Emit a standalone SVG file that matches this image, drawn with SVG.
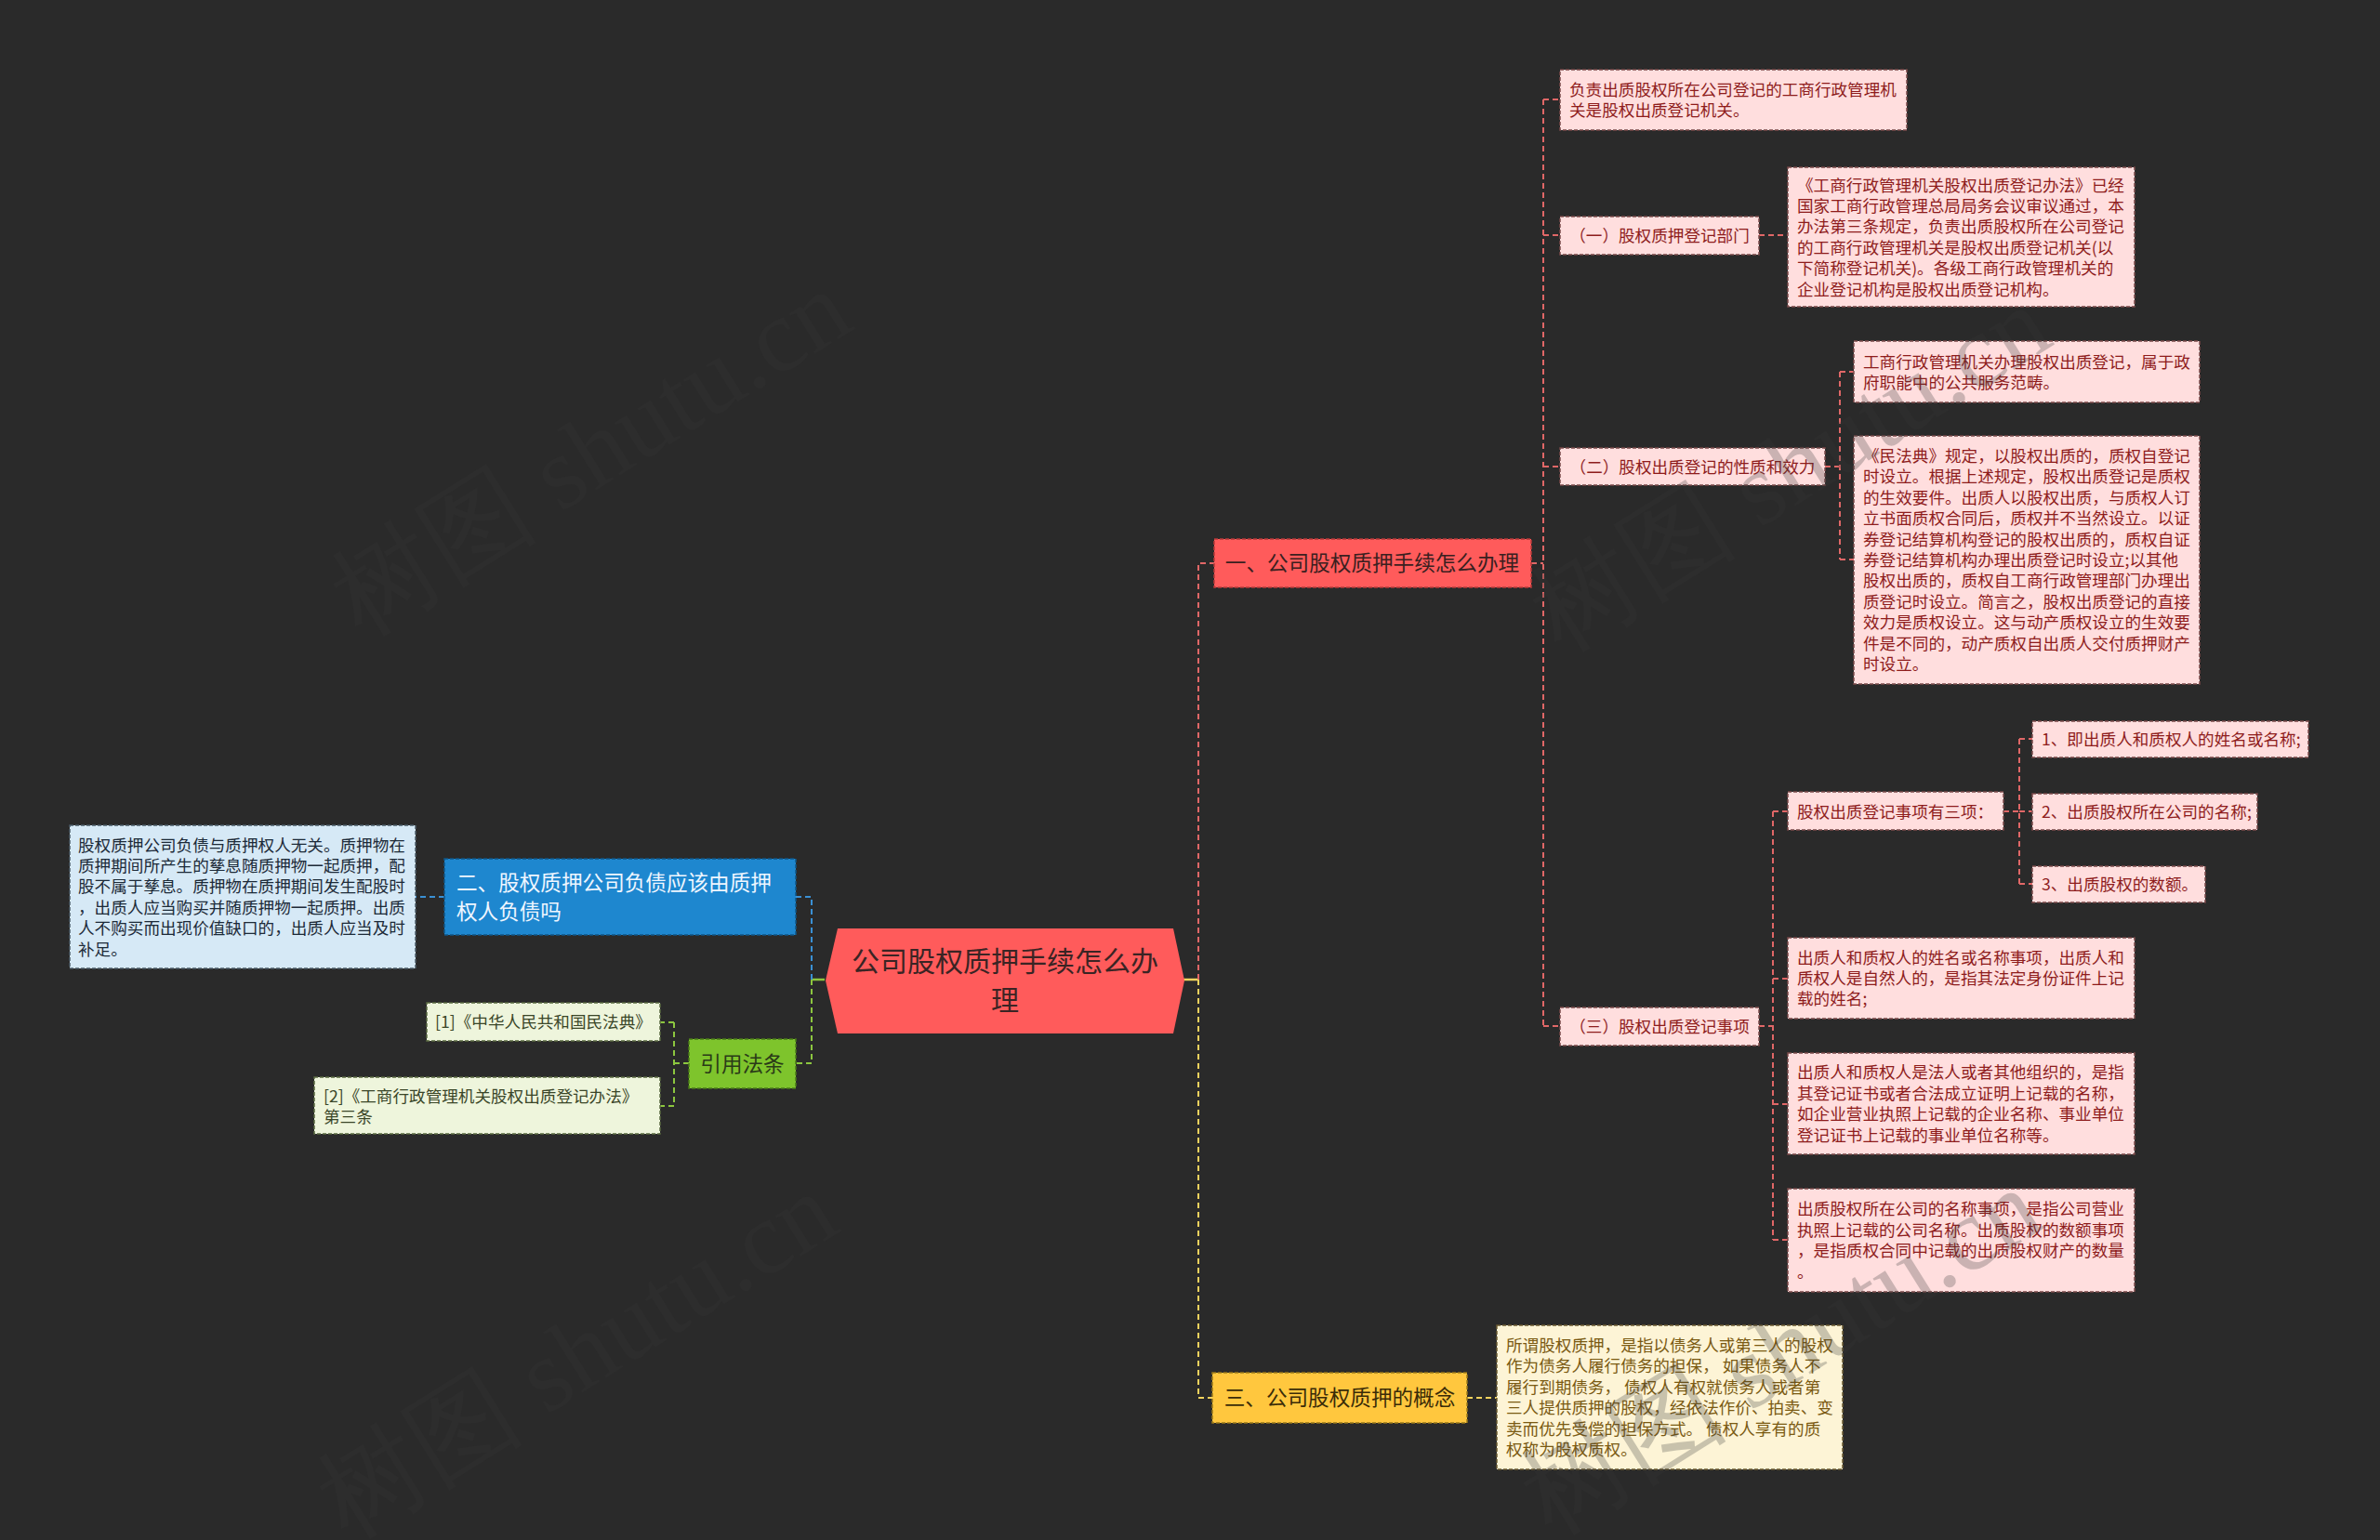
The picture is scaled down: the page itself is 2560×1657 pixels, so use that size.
<svg xmlns="http://www.w3.org/2000/svg" width="2560" height="1657" viewBox="0 0 2560 1657">
<style>
text{font-family:"Noto Sans CJK SC","Microsoft YaHei","Noto Sans",sans-serif}
.leaf{font-size:17.6px}
.br{font-size:22.6px}
.rl rect{fill:#ffdede;stroke:#7a4a4a;stroke-width:1.5;stroke-dasharray:4 2}
.rl text{fill:#8e1c1c}
.cn{fill:none;stroke-width:2;stroke-dasharray:6 4}
.cr{stroke:#e06767}
.cy{stroke:#f2d35e}
.cb{stroke:#3a90d4}
.cg{stroke:#8cc63f}
.wm{font-family:"Liberation Serif",serif;font-size:112px;fill:#363636;opacity:.26}
</style>
<rect width="2560" height="1657" fill="#2a2a2a"/>

<g id="connectors">
<path d="M1273,1054 H1289" stroke="#f2d35e" stroke-width="2.5" fill="none"/>
<path d="M887,1054 H873" stroke="#8cc63f" stroke-width="2.5" fill="none"/>
<path class="cn cr" d="M1289,1054 V606 H1306"/>
<path class="cn cy" d="M1289,1054 V1504 H1304"/>
<path class="cn cb" d="M873,1054 V965 H856 M478,965 H447"/>
<path class="cn cg" d="M873,1054 V1144 H856 M741,1144 H725 M725,1100 V1190 M725,1100 H710 M725,1190 H710"/>
<path class="cn cr" d="M1647,606 H1660 M1660,107 V1104 M1660,107 H1678 M1660,253 H1678 M1660,502 H1678 M1660,1104 H1678"/>
<path class="cn cr" d="M1892,253 H1923"/>
<path class="cn cr" d="M1963,502 H1979 M1979,400 V602 M1979,400 H1994 M1979,602 H1994"/>
<path class="cn cr" d="M1892,1104 H1907 M1907,873 V1334 M1907,873 H1923 M1907,1053 H1923 M1907,1188 H1923 M1907,1334 H1923"/>
<path class="cn cr" d="M2155,873 H2172 M2172,795 V951 M2172,795 H2186 M2172,873 H2186 M2172,951 H2186"/>
<path class="cn cy" d="M1578,1504 H1610"/>
</g>

<g id="root">
<polygon points="901,999 1262,999 1274,1055 1262,1112 901,1112 888,1055" fill="#ff5b5b"/>
<text x="1081" y="1045" font-size="30" fill="#3a2424" text-anchor="middle">公司股权质押手续怎么办</text>
<text x="1081" y="1087" font-size="30" fill="#3a2424" text-anchor="middle">理</text>
</g>

<g id="branch1">
<rect x="1306" y="580" width="341" height="52" fill="#ff5b5b" stroke="#b83a3a" stroke-width="1.5" stroke-dasharray="4 2"/>
<text class="br" x="1476" y="614" fill="#3a2020" text-anchor="middle">一、公司股权质押手续怎么办理</text>
</g>

<g id="branch2">
<rect x="478" y="924" width="378" height="82" fill="#1e87cf" stroke="#0f5586" stroke-width="1.5" stroke-dasharray="4 2"/>
<text class="br" x="491" y="958" fill="#eef6ff">二、股权质押公司负债应该由质押</text>
<text class="br" x="491" y="989" fill="#eef6ff">权人负债吗</text>
</g>

<g id="branch2-leaf">
<rect x="75" y="888" width="372" height="154" fill="#d6e9f6" stroke="#4a5a66" stroke-width="1.5" stroke-dasharray="4 2"/>
<text class="leaf" fill="#1c2a38">
<tspan x="84" y="915.5">股权质押公司负债与质押权人无关。质押物在</tspan>
<tspan x="84" y="937.9">质押期间所产生的孳息随质押物一起质押，配</tspan>
<tspan x="84" y="960.3">股不属于孳息。质押物在质押期间发生配股时</tspan>
<tspan x="84" y="982.7">，出质人应当购买并随质押物一起质押。出质</tspan>
<tspan x="84" y="1005.1">人不购买而出现价值缺口的，出质人应当及时</tspan>
<tspan x="84" y="1027.5">补足。</tspan>
</text>
</g>

<g id="branch-cite">
<rect x="741" y="1118" width="115" height="53" fill="#7ec42c" stroke="#4a7a18" stroke-width="1.5" stroke-dasharray="4 2"/>
<text class="br" x="798.5" y="1152.5" fill="#2a3a18" text-anchor="middle">引用法条</text>
</g>

<g id="cite1">
<rect x="459" y="1079" width="251" height="41" fill="#eef5dc" stroke="#5a6a40" stroke-width="1.5" stroke-dasharray="4 2"/>
<text class="leaf" x="584.5" y="1106" fill="#3a4628" text-anchor="middle">[1]《中华人民共和国民法典》</text>
</g>

<g id="cite2">
<rect x="338" y="1159" width="372" height="61" fill="#eef5dc" stroke="#5a6a40" stroke-width="1.5" stroke-dasharray="4 2"/>
<text class="leaf" fill="#3a4628">
<tspan x="348" y="1185.5">[2]《工商行政管理机关股权出质登记办法》</tspan>
<tspan x="348" y="1207.9">第三条</tspan>
</text>
</g>

<g id="branch3">
<rect x="1304" y="1477" width="274" height="54" fill="#ffc73e" stroke="#9a7a1a" stroke-width="1.5" stroke-dasharray="4 2"/>
<text class="br" x="1441" y="1512" fill="#3a2c08" text-anchor="middle">三、公司股权质押的概念</text>
</g>

<g id="branch3-leaf">
<rect x="1610" y="1426" width="372" height="155" fill="#fdf4d6" stroke="#6a5a30" stroke-width="1.5" stroke-dasharray="4 2"/>
<text class="leaf" fill="#7a5a12">
<tspan x="1620" y="1454">所谓股权质押，是指以债务人或第三人的股权</tspan>
<tspan x="1620" y="1476.4">作为债务人履行债务的担保， 如果债务人不</tspan>
<tspan x="1620" y="1498.8">履行到期债务， 债权人有权就债务人或者第</tspan>
<tspan x="1620" y="1521.2">三人提供质押的股权，经依法作价、拍卖、变</tspan>
<tspan x="1620" y="1543.6">卖而优先受偿的担保方式。 债权人享有的质</tspan>
<tspan x="1620" y="1566">权称为股权质权。</tspan>
</text>
</g>

<g id="n-dept-body" class="rl">
<rect x="1678" y="75" width="373" height="65"/>
<text class="leaf"><tspan x="1688" y="103">负责出质股权所在公司登记的工商行政管理机</tspan><tspan x="1688" y="125.4">关是股权出质登记机关。</tspan></text>
</g>

<g id="n-dept" class="rl">
<rect x="1678" y="233" width="214" height="41"/>
<text class="leaf" x="1785" y="260" text-anchor="middle">（一）股权质押登记部门</text>
</g>

<g id="n-dept-law" class="rl">
<rect x="1923" y="180" width="373" height="150"/>
<text class="leaf">
<tspan x="1933" y="205.5">《工商行政管理机关股权出质登记办法》已经</tspan>
<tspan x="1933" y="227.9">国家工商行政管理总局局务会议审议通过，本</tspan>
<tspan x="1933" y="250.3">办法第三条规定，负责出质股权所在公司登记</tspan>
<tspan x="1933" y="272.7">的工商行政管理机关是股权出质登记机关(以</tspan>
<tspan x="1933" y="295.1">下简称登记机关)。各级工商行政管理机关的</tspan>
<tspan x="1933" y="317.5">企业登记机构是股权出质登记机构。</tspan>
</text>
</g>

<g id="n-nature" class="rl">
<rect x="1678" y="482" width="285" height="40"/>
<text class="leaf" x="1820.5" y="508.5" text-anchor="middle">（二）股权出质登记的性质和效力</text>
</g>

<g id="n-nature-1" class="rl">
<rect x="1994" y="367" width="372" height="66"/>
<text class="leaf"><tspan x="2004" y="395.5">工商行政管理机关办理股权出质登记，属于政</tspan><tspan x="2004" y="417.9">府职能中的公共服务范畴。</tspan></text>
</g>

<g id="n-nature-2" class="rl">
<rect x="1994" y="469" width="372" height="267"/>
<text class="leaf">
<tspan x="2004" y="497">《民法典》规定，以股权出质的，质权自登记</tspan>
<tspan x="2004" y="519.4">时设立。根据上述规定，股权出质登记是质权</tspan>
<tspan x="2004" y="541.8">的生效要件。出质人以股权出质，与质权人订</tspan>
<tspan x="2004" y="564.2">立书面质权合同后，质权并不当然设立。以证</tspan>
<tspan x="2004" y="586.6">券登记结算机构登记的股权出质的，质权自证</tspan>
<tspan x="2004" y="609">券登记结算机构办理出质登记时设立;以其他</tspan>
<tspan x="2004" y="631.4">股权出质的，质权自工商行政管理部门办理出</tspan>
<tspan x="2004" y="653.8">质登记时设立。简言之，股权出质登记的直接</tspan>
<tspan x="2004" y="676.2">效力是质权设立。这与动产质权设立的生效要</tspan>
<tspan x="2004" y="698.6">件是不同的，动产质权自出质人交付质押财产</tspan>
<tspan x="2004" y="721">时设立。</tspan>
</text>
</g>

<g id="n-items" class="rl">
<rect x="1678" y="1084" width="214" height="41"/>
<text class="leaf" x="1785" y="1111" text-anchor="middle">（三）股权出质登记事项</text>
</g>

<g id="n-items-three" class="rl">
<rect x="1923" y="852" width="232" height="41"/>
<text class="leaf" x="1933" y="879.5">股权出质登记事项有三项：</text>
</g>

<g id="n-item-1" class="rl">
<rect x="2186" y="776" width="297" height="39"/>
<text class="leaf" x="2196" y="802">1、即出质人和质权人的姓名或名称;</text>
</g>

<g id="n-item-2" class="rl">
<rect x="2186" y="854" width="242" height="39"/>
<text class="leaf" x="2196" y="880">2、出质股权所在公司的名称;</text>
</g>

<g id="n-item-3" class="rl">
<rect x="2186" y="932" width="186" height="39"/>
<text class="leaf" x="2196" y="958">3、出质股权的数额。</text>
</g>

<g id="n-items-a" class="rl">
<rect x="1923" y="1009" width="373" height="87"/>
<text class="leaf">
<tspan x="1933" y="1036.6">出质人和质权人的姓名或名称事项，出质人和</tspan>
<tspan x="1933" y="1059">质权人是自然人的，是指其法定身份证件上记</tspan>
<tspan x="1933" y="1081.4">载的姓名;</tspan>
</text>
</g>

<g id="n-items-b" class="rl">
<rect x="1923" y="1133" width="373" height="109"/>
<text class="leaf">
<tspan x="1933" y="1160.4">出质人和质权人是法人或者其他组织的，是指</tspan>
<tspan x="1933" y="1182.8">其登记证书或者合法成立证明上记载的名称，</tspan>
<tspan x="1933" y="1205.2">如企业营业执照上记载的企业名称、事业单位</tspan>
<tspan x="1933" y="1227.6">登记证书上记载的事业单位名称等。</tspan>
</text>
</g>

<g id="n-items-c" class="rl">
<rect x="1923" y="1279" width="373" height="111"/>
<text class="leaf">
<tspan x="1933" y="1307.4">出质股权所在公司的名称事项，是指公司营业</tspan>
<tspan x="1933" y="1329.8">执照上记载的公司名称。出质股权的数额事项</tspan>
<tspan x="1933" y="1352.2">，是指质权合同中记载的出质股权财产的数量</tspan>
<tspan x="1933" y="1374.6">。</tspan>
</text>
</g>

<g id="watermarks">
<text class="wm" x="655" y="519" text-anchor="middle" transform="rotate(-32 655 519)">树图 shutu.cn</text>
<text class="wm" x="1945" y="536" text-anchor="middle" transform="rotate(-32 1945 536)">树图 shutu.cn</text>
<text class="wm" x="640" y="1490" text-anchor="middle" transform="rotate(-32 640 1490)">树图 shutu.cn</text>
<text class="wm" x="1935" y="1486" text-anchor="middle" transform="rotate(-32 1935 1486)">树图 shutu.cn</text>
</g>
</svg>
